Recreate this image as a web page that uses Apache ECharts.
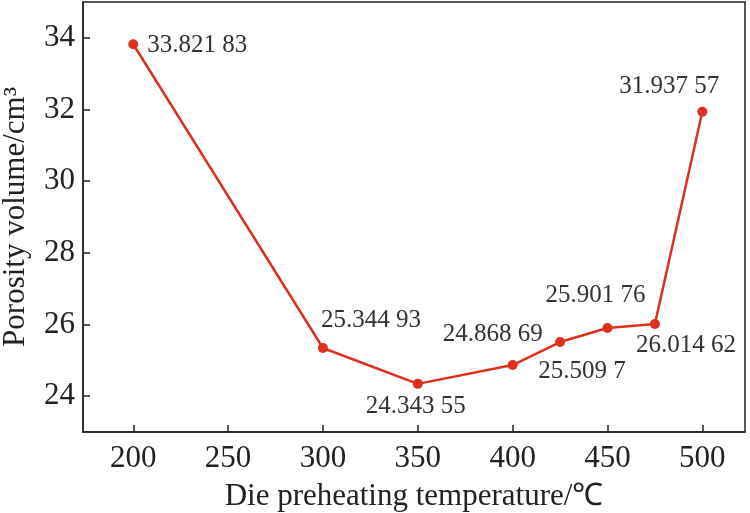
<!DOCTYPE html>
<html><head><meta charset="utf-8">
<script src="https://cdn.jsdelivr.net/npm/echarts@6/dist/echarts.min.js"></script>
<style>html,body{margin:0;padding:0;background:#fff}#c{width:750px;height:513px}</style>
</head><body><div id="c"></div>
<script>
var temps = [200, 300, 350, 400, 425, 450, 475, 500];
var volumes = [33.82183, 25.34493, 24.34355, 24.86869, 25.5097, 25.90176, 26.01462, 31.93757];
var xTicks = [200, 250, 300, 350, 400, 450, 500];
var yTicks = [24, 26, 28, 30, 32, 34];

var labelPlacement = [
  {position: 'right', distance: 9, offset: [0, 1]},
  {position: 'top', distance: 8, offset: [48, -2]},
  {position: 'bottom', distance: 8, offset: [-2, -3]},
  {position: 'top', distance: 8, offset: [-20, -5]},
  {position: 'bottom', distance: 8, offset: [22, 4]},
  {position: 'top', distance: 8, offset: [-12, -7]},
  {position: 'bottom', distance: 8, offset: [31, -4]},
  {position: 'top', distance: 8, offset: [-33, 0]}
];
function fmt(v){
  var s = String(v).split('.');
  var d = s[1] || '';
  var g = d.match(/.{1,3}/g) || [];
  return s[0] + '.' + g.join(' ');
}
var font = 'Liberation Serif';
var chart = echarts.init(document.getElementById('c'));
chart.setOption({
  animation: false,
  grid: {left: 83, right: 5, top: 2, bottom: 81, show: true, borderColor: '#222', borderWidth: 1.5,
         containLabel: false, outerBoundsMode: 'none'},
  xAxis: {
    type: 'value', min: 173.5, max: 522.5,
    name: 'Die preheating temperature/\u2103', nameLocation: 'middle', nameGap: 49,
    nameTextStyle: {fontFamily: font, fontSize: 31, color: '#222'},
    axisLine: {lineStyle: {color: '#222', width: 1.5}},
    axisTick: {inside: true, length: 7, customValues: xTicks, lineStyle: {color: '#222', width: 1.5}},
    axisLabel: {customValues: xTicks, fontFamily: font, fontSize: 31, color: '#222', margin: 11},
    splitLine: {show: false}
  },
  yAxis: {
    type: 'value', min: 23, max: 35,
    name: 'Porosity volume/cm\u00b3', nameLocation: 'middle', nameGap: 52,
    nameTextStyle: {fontFamily: font, fontSize: 31, color: '#222'},
    axisLine: {lineStyle: {color: '#222', width: 1.5}},
    axisTick: {inside: true, length: 7, customValues: yTicks, lineStyle: {color: '#222', width: 1.5}},
    axisLabel: {customValues: yTicks, fontFamily: font, fontSize: 31, color: '#222', margin: 8},
    splitLine: {show: false}
  },
  series: [{
    type: 'line',
    data: temps.map(function(t, i){
      var p = labelPlacement[i];
      return {value: [t, volumes[i]], label: {position: p.position, distance: p.distance, offset: p.offset}};
    }),
    symbol: 'circle', symbolSize: 10,
    lineStyle: {color: '#df2f1f', width: 2.5},
    itemStyle: {color: '#df2f1f'},
    label: {show: true, fontFamily: font, fontSize: 25, color: '#333',
      formatter: function(p){ return fmt(p.value[1]); }}
  }]
});
</script></body></html>
